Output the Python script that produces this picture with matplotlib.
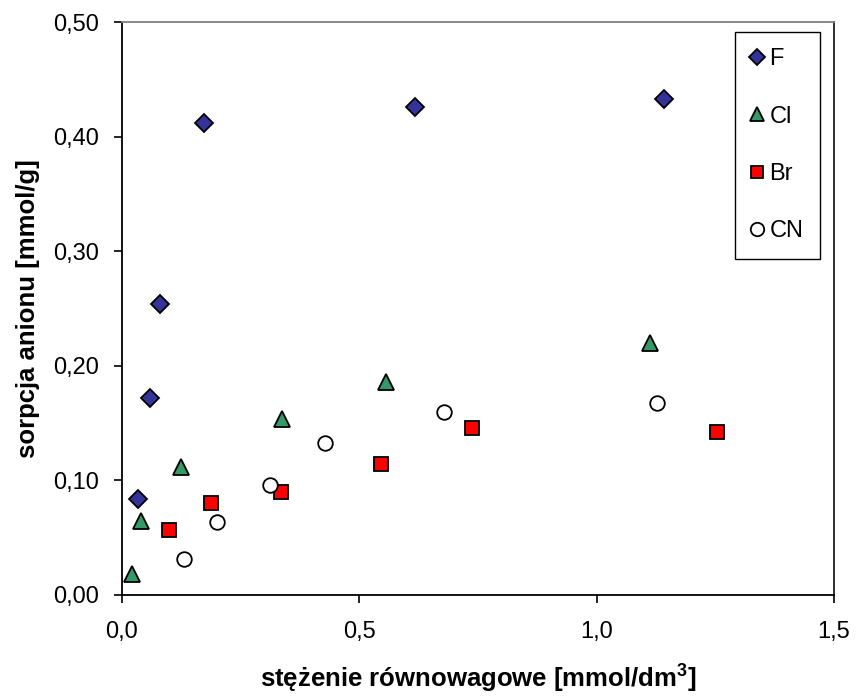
import matplotlib
matplotlib.use("Agg")
import matplotlib.pyplot as plt
from matplotlib.ticker import FuncFormatter, MultipleLocator

plt.rcParams['font.family'] = ['Liberation Sans', 'DejaVu Sans']
plt.rcParams['mathtext.fontset'] = 'custom'
plt.rcParams['mathtext.rm'] = 'Liberation Sans'
plt.rcParams['mathtext.bf'] = 'Liberation Sans:bold'
plt.rcParams['mathtext.default'] = 'bf'

# equilibrium concentration [mmol/dm3] and sorption [mmol/g] for each anion
f_x = [0.034, 0.058, 0.080, 0.172, 0.617, 1.142]
f_y = [0.084, 0.172, 0.254, 0.412, 0.426, 0.433]

cl_x = [0.022, 0.041, 0.125, 0.337, 0.556, 1.112]
cl_y = [0.018, 0.065, 0.112, 0.154, 0.186, 0.220]

br_x = [0.100, 0.187, 0.336, 0.545, 0.737, 1.253]
br_y = [0.057, 0.080, 0.090, 0.114, 0.146, 0.142]

cn_x = [0.130, 0.201, 0.312, 0.427, 0.679, 1.128]
cn_y = [0.031, 0.064, 0.096, 0.133, 0.160, 0.168]

labels = ["F", "Cl", "Br", "CN"]

fig = plt.figure(figsize=(8.56, 6.98), dpi=100)
ax = fig.add_axes([0.1425, 0.1476, 0.8318, 0.8202])

ax.plot(f_x, f_y, linestyle='none', marker='D', markersize=8.8,
        markerfacecolor='#333399', markeredgecolor='black', markeredgewidth=1.3, label=labels[0])
ax.plot(cl_x, cl_y, linestyle='none', marker='^', markersize=11,
        markerfacecolor='#339966', markeredgecolor='black', markeredgewidth=1.3, label=labels[1])
ax.plot(br_x, br_y, linestyle='none', marker='s', markersize=10,
        markerfacecolor='#FF0000', markeredgecolor='black', markeredgewidth=1.3, label=labels[2])
ax.plot(cn_x, cn_y, linestyle='none', marker='o', markersize=10.5,
        markerfacecolor='white', markeredgecolor='black', markeredgewidth=1.3, label=labels[3])

ax.set_xlim(0, 1.5)
ax.set_ylim(0, 0.5)
ax.xaxis.set_major_locator(MultipleLocator(0.5))
ax.yaxis.set_major_locator(MultipleLocator(0.1))
ax.xaxis.set_major_formatter(FuncFormatter(lambda v, p: f"{v:.1f}".replace('.', ',')))
ax.yaxis.set_major_formatter(FuncFormatter(lambda v, p: f"{v:.2f}".replace('.', ',')))

ax.tick_params(axis='both', direction='out', length=5.8, width=1.2, color='black',
               labelsize=17)
ax.tick_params(axis='y', pad=10.5)
ax.tick_params(axis='x', pad=13)

for side in ['left', 'bottom']:
    ax.spines[side].set_color('black')
    ax.spines[side].set_linewidth(1.3)
ax.spines['top'].set_color('#808080')
ax.spines['top'].set_linewidth(1.3)
ax.spines['right'].set_color('#202020')
ax.spines['right'].set_linewidth(1.3)

ax.set_xlabel("stężenie równowagowe [mmol/dm$^3$]", fontsize=18.5, fontweight='bold', labelpad=14)
ax.set_ylabel("sorpcja anionu [mmol/g]", fontsize=18.5, fontweight='bold', labelpad=10)

leg = ax.legend(loc='upper right', bbox_to_anchor=(0.980, 0.984), fontsize=17,
                markerscale=0.92, frameon=True, fancybox=False, framealpha=1,
                edgecolor='black', labelspacing=1.5, handlelength=0.45,
                handletextpad=0.3, borderpad=0.7, borderaxespad=0)
leg.get_frame().set_linewidth(1.0)

fig.savefig("out.png", dpi=100, facecolor='white')
